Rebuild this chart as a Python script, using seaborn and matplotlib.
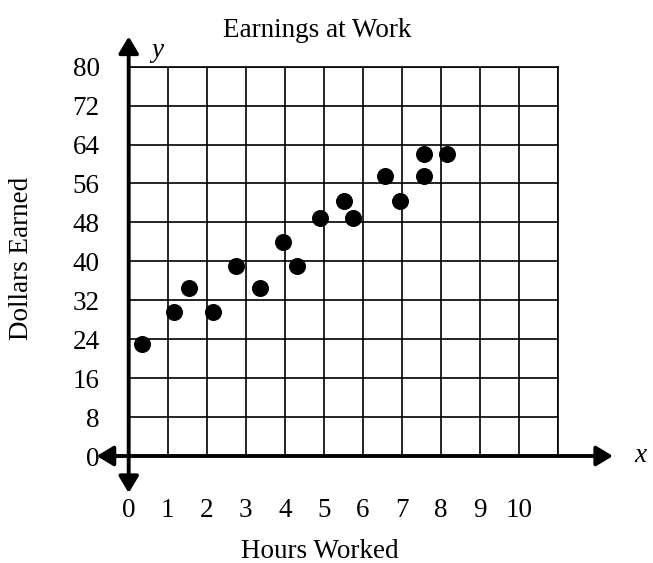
import matplotlib
matplotlib.use("Agg")
import matplotlib.pyplot as plt
import seaborn as sns
import pandas as pd

hours = [0.35, 1.15, 1.55, 2.15, 2.75, 3.35, 3.95, 4.3, 4.9, 5.5, 5.75, 6.55, 6.95, 7.55, 7.55, 8.15]
dollars = [23, 29.5, 34.5, 29.5, 39, 34.5, 44, 39, 49, 52.5, 49, 57.5, 52.5, 57.5, 62, 62]
x_ticks = [0, 1, 2, 3, 4, 5, 6, 7, 8, 9, 10]
y_ticks = [0, 8, 16, 24, 32, 40, 48, 56, 64, 72, 80]
title = "Earnings at Work"
x_label = "Hours Worked"
y_label = "Dollars Earned"

df = pd.DataFrame({"Hours": hours, "Dollars": dollars})

sns.set_style("white")
plt.rcParams["font.family"] = ["Liberation Serif", "DejaVu Serif"]
plt.rcParams["text.color"] = "black"
plt.rcParams["xtick.color"] = "black"
plt.rcParams["ytick.color"] = "black"
plt.rcParams["axes.labelcolor"] = "black"
FS = 19.5

W, H = 653, 563
fig = plt.figure(figsize=(W / 100, H / 100), dpi=100)
left_px, right_px, top_px, bot_px = 128.7, 558.3, 66.7, 456.0
ax = fig.add_axes([left_px / W, 1 - bot_px / H, (right_px - left_px) / W, (bot_px - top_px) / H])

sns.scatterplot(data=df, x="Hours", y="Dollars", ax=ax, s=150, color="black",
                edgecolor="black", linewidth=0, zorder=5, clip_on=False)

ax.set_xlim(0, 11)
ax.set_ylim(0, 80)
ax.set_xticks(list(range(0, 12)))
ax.set_xticklabels([str(v) for v in x_ticks] + [""], fontsize=FS, color="black")
ax.set_yticks(y_ticks)
ax.set_yticklabels([str(v) for v in y_ticks], fontsize=FS, color="black")
ax.tick_params(axis="x", length=0, pad=30)
ax.tick_params(axis="y", length=0, pad=21)
ax.grid(True, color="black", linewidth=1.2)
ax.set_axisbelow(True)
for side in ["left", "bottom"]:
    ax.spines[side].set_visible(False)
for side in ["top", "right"]:
    ax.spines[side].set_color("black")
    ax.spines[side].set_linewidth(1.2)
ax.set_xlabel("")
ax.set_ylabel("")

arrow = dict(arrowstyle="<|-|>,head_length=0.5,head_width=0.3", color="black",
             lw=2.8, shrinkA=0, shrinkB=0, mutation_scale=20)
ax.annotate("", xy=(0, 86.2), xytext=(0, -7.6), xycoords="data",
            arrowprops=arrow, annotation_clip=False, zorder=6)
ax.annotate("", xy=(12.4, 0), xytext=(-0.82, 0), xycoords="data",
            arrowprops=arrow, annotation_clip=False, zorder=6)

ax.text(0.72, 83.4, "y", fontsize=FS, style="italic", ha="center", va="center", clip_on=False, color="black")
ax.text(13.1, 0, "x", fontsize=FS, style="italic", ha="center", va="center", clip_on=False, color="black")

fig.text(317 / W, 1 - 36.7 / H, title, fontsize=FS, ha="center", va="baseline", color="black")
fig.text(320 / W, 1 - 558.3 / H, x_label, fontsize=FS, ha="center", va="baseline", color="black")
fig.text(22 / W, 1 - 258 / H, y_label, fontsize=FS, ha="center", va="center", rotation=90, color="black")

fig.savefig("out.png", dpi=100, facecolor="white")
